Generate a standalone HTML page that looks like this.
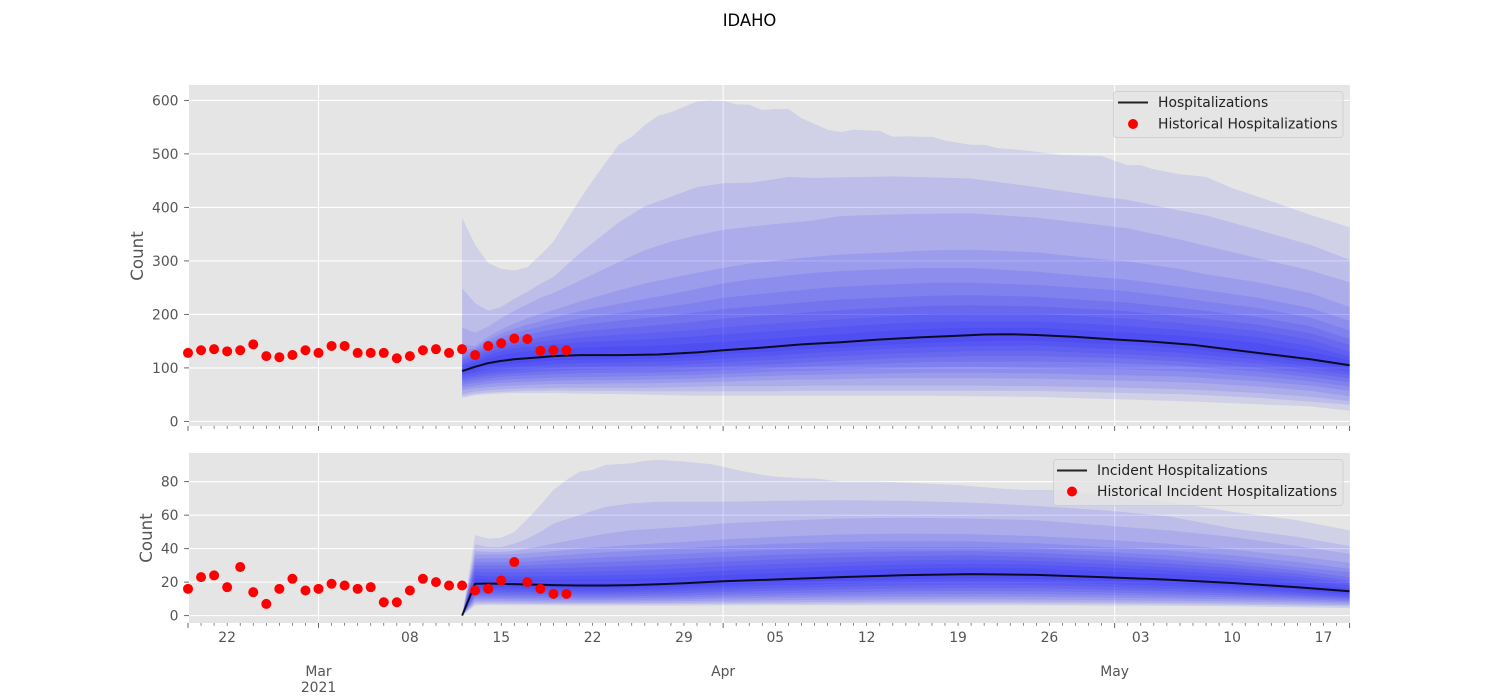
<!DOCTYPE html>
<html lang="en">
<head>
<meta charset="utf-8">
<title>IDAHO</title>
<style>
html,body{margin:0;padding:0;background:#fff;width:1500px;height:700px;overflow:hidden}
svg{display:block}
text{font-family:"DejaVu Sans","Liberation Sans",sans-serif}
</style>
</head>
<body>
<svg id="fig" xmlns="http://www.w3.org/2000/svg" width="1500" height="700" viewBox="0 0 1500 700">
  <text x="749.5" y="26" text-anchor="middle" font-size="16.4" fill="#000">IDAHO</text>
  <g id="panelTop"></g>
  <g id="panelBottom"></g>
  <g id="legendTop">
    <rect x="1113.5" y="91.5" width="229.5" height="46" rx="3" fill="#e5e5e5" fill-opacity="0.8" stroke="#cccccc" stroke-opacity="0.8"/>
    <line x1="1118" y1="102.5" x2="1148" y2="102.5" stroke="#000" stroke-opacity="0.85" stroke-width="2"/>
    <circle cx="1133" cy="124" r="5" fill="#f00"/>
    <text x="1158" y="107" font-size="13.9" fill="#222">Hospitalizations</text>
    <text x="1158" y="128.5" font-size="13.9" fill="#222">Historical Hospitalizations</text>
  </g>
  <g id="legendBottom">
    <rect x="1053.5" y="459.5" width="289.5" height="46" rx="3" fill="#e5e5e5" fill-opacity="0.8" stroke="#cccccc" stroke-opacity="0.8"/>
    <line x1="1057" y1="470.5" x2="1087" y2="470.5" stroke="#000" stroke-opacity="0.85" stroke-width="2"/>
    <circle cx="1072" cy="491.5" r="5" fill="#f00"/>
    <text x="1097" y="475" font-size="13.9" fill="#222">Incident Hospitalizations</text>
    <text x="1097" y="496" font-size="13.9" fill="#222">Historical Incident Hospitalizations</text>
  </g>
</svg>
<script>
// Days are counted from 2021-02-19.
var historyDays = [0,1,2,3,4,5,6,7,8,9,10,11,12,13,14,15,16,17,18,19,20,21,22,23,24,25,26,27,28,29];
var historicalHospitalizations = [128,133,135,131,133,144,122,120,124,133,128,141,141,128,128,128,118,122,133,135,128,135,124,141,146,155,154,132,133,133];
var historicalIncident = [16,23,24,17,29,14,7,16,22,15,16,19,18,16,17,8,8,15,22,20,18,18,15,16,21,32,20,16,13,13];

var hospMedianDays = [21,22,23,24,25,26,27,28,30,33,36,39,41,44,47,50,53,56,59,61,63,65,68,71,74,77,80,83,86,89];
var hospMedian = [94,102,109,113,116,118,120,122,124,124,125,129,133,138,144,148,153,157,160,162.5,163,161.5,158,153,149,143,134,125,116,105];

var hospOuterDays = [21,22,23,24,25,26,27,28,29,30,31,32,33,34,35,36,37,38,39,40,41,42,43,44,45,46,47,48,49,50,51,52,53,54,55,56,57,58,59,60,61,62,63,64,65,67,70,71,72,73,74,76,78,80,82,86,89];
var hospQ99 = [381,330,296,285,282,288,311,336,375,414,450,484,517,532,554,571,578,588,598,600,599,593,592,582,584,584,567,556,545,541,545,544,543,532,533,532,532,525,521,517,517,511,509,507,504,498,496,487,479,479,471,462,457,436,420,386,363];

var hospDays = [21,22,23,24,25,26,27,28,30,33,35,37,39,41,43,45,46,48,50,54,57,60,65,70,72,76,78,82,86,89];
var hospQ975 = [249,221,207,214,229,242,257,270,314,372,402,420,438,445,446,453,457,455,456,458,456,454,438,420,414,394,385,358,330,302];
var hospQ95 = [175,166,177,193,207,219,231,240,263,298,320,336,348,358,364,369,371,376,384,387,388,389,381,367,361,340,328,305,282,260];
var hospQ90 = [143,141,158,172,183,193,201,208,224,245,258,268,278,287,295,300,303,308,312,316,320,321,316,303,299,285,275,260,240,214];
var hospQ85 = [132,137,152,164,173,181,187,194,206,220,229,238,248,258,265,270,273,278,281,285,287,287,280,269,265,252,245,231,212,188];
var hospQ80 = [125,134,146,157,165,171,177,183,192,202,209,215,222,231,236,241,243,248,252,256,259,259,255,247,243,231,224,212,194,170];
var hospQ75 = [118,130,141,150,156,162,167,172,180,188,193,198,204,210,214,218,220,224,228,232,235,236,233,225,222,212,207,195,178,154];
var hospQ70 = [113,126,136,144,149,153,157,161,168,174,178,182,187,192,196,199,201,205,208,213,216,217,215,209,206,197,192,181,165,143];
var hospQ65 = [108,120,130,137,142,146,149,152,157,162,165,168,171,176,180,183,185,188,191,197,200,201,201,195,192,184,179,169,153,130];
var hospQ60 = [104,115,124,131,136,139,141,144,148,151,153,156,159,163,166,169,171,174,177,183,186,187,187,181,178,171,167,157,141,121];
var hospQ55 = [99,110,118,124,128,131,133,135,138,140,141,143,146,148,152,155,157,160,163,170,173,175,175,168,166,160,156,146,130,114];
var hospQ45 = [90,96,102,105,108,110,112,114,115,116,117,118,121,125,128,131,133,136,138,144,147,150,151,145,143,137,132,122,109,99];
var hospQ40 = [86,91,96,99,101,103,105,107,109,110,111,112,114,117,120,123,125,128,131,136,139,141,142,136,134,128,124,115,103,93];
var hospQ35 = [82,86,90,93,95,97,99,100,102,103,104,105,107,110,113,115,116,119,122,127,129,131,132,127,125,120,116,108,97,87];
var hospQ30 = [78,82,85,88,90,91,93,94,96,97,98,99,101,103,105,107,108,111,113,118,120,122,122,119,117,112,108,100,90,81];
var hospQ25 = [73,77,80,83,85,86,87,88,90,91,91,92,94,96,98,100,101,103,105,109,111,112,112,110,108,104,100,93,83,73];
var hospQ20 = [68,72,75,77,79,80,81,82,83,84,85,86,87,89,91,93,94,95,97,100,101,102,100,98,97,94,91,84,75,65];
var hospQ15 = [63,67,70,72,73,74,75,76,77,77,78,79,80,82,84,85,86,87,88,90,91,91,90,87,86,84,81,75,67,57];
var hospQ10 = [58,62,64,66,67,68,69,70,70,71,71,72,73,74,76,77,78,78,79,81,81,81,80,77,76,73,71,65,57,47];
var hospQ05 = [51,56,58,60,61,62,62,63,63,63,63,64,65,66,66,66,66,67,67,67,67,67,66,64,63,60,58,53,46,38];
var hospQ025 = [47,52,54,55,56,57,57,58,57,57,56,56,56,56,56,56,57,57,57,57,57,57,57,54,53,51,49,44,37,31];
var hospQ01 = [44,49,51,52,53,53,53,53,52,51,50,49,48,48,48,48,48,48,48,48,48,47,46,42,41,38,36,32,28,20];

var incOuterDays = [21,22,23,24,25,26,27,28,29,30,31,32,33,34,35,36,38,40,41,42,44,45,47,48,50,53,56,59,62,64,67,70,75,80,85,89];
var incQ99 = [0,48,46,46.5,50,57.6,66,75,81,86,87,90,90.5,91,92.4,93,92,90.5,89,87,84,83,82,82,80,80,79,78,76,75,75,72,68,62,57,51];

var incDays = [21,22,23,24,25,26,27,28,30,32,34,36,38,41,45,50,55,60,65,70,75,80,85,89];
var incMedian = [0,19,19.2,19,18.8,18.6,18.4,18.2,18,18,18.2,18.7,19.3,20.5,21.6,23,24.2,24.8,24.3,23,21.5,19.5,17,14.5];
var incQ975 = [0,42.5,41,41,43,46,50,55,60,65,67,68,68,68,68.5,69,68.5,67.5,65.5,63,59.5,52,47,41.5];
var incQ95 = [0,38.5,38,38,38.5,40,41.5,43,46,49,51,52,53,55,56.5,58,58.5,58,57,54,51,47,41.5,37];
var incQ90 = [0,36.5,36.5,36.5,36.8,37.2,37.8,38.5,40,41.2,42.2,43.2,44,45.5,47,48.5,49,48.7,47.5,45.5,43,39.5,35.5,31.6];
var incQ85 = [0,34,34.2,34.2,34.2,34.6,35.2,35.8,36.8,37.8,38.6,39.5,40.3,41.5,42.8,44,44.5,44.3,43.2,41.2,39,36,32,28];
var incQ80 = [0,32,32,32,32,32.2,32.7,33.2,34,34.8,35.5,36.3,37,38,39.3,40.5,41,41,40.2,38.2,36,33,29,26];
var incQ75 = [0,30,30,30,30,30,30.4,30.8,31.4,32,32.6,33.3,34,35,36.3,37.5,38.3,38.5,37.6,35.8,33.5,30.6,27,23];
var incQ70 = [0,28,28,28,28,28,28.2,28.4,28.8,29.3,29.8,30.4,31,32.2,33.5,34.8,35.6,36,35,33.3,31.2,28.5,25,21];
var incQ65 = [0,26,25.8,25.8,25.8,25.8,26,26,26.2,26.6,27,27.6,28.3,29.5,30.8,32,33,33.5,32.6,31,29,26.5,23.2,19.5];
var incQ60 = [0,24,23.5,23.5,23.5,23.5,23.5,23.5,23.8,24,24.3,24.8,25.5,26.8,28,29.5,30.5,31,30.4,28.8,27,24.5,21.5,18];
var incQ55 = [0,22,21.5,21.5,21.5,21.5,21.5,21.5,21.5,21.5,21.8,22.3,23,24.2,25.4,26.8,28,28.7,28,26.5,24.8,22.5,19.5,16];
var incQ45 = [0,17.5,17.5,17.3,17,16.8,16.7,16.5,16.3,16.3,16.5,16.9,17.5,18.5,19.5,20.8,21.8,22.3,21.9,20.8,19.4,17.6,15.3,13];
var incQ40 = [0,16,16,15.8,15.6,15.4,15.3,15.2,15,15,15.2,15.5,16,17,18,19,19.9,20.3,20,19,17.7,16.1,14,12];
var incQ35 = [0,14.5,14.5,14.4,14.2,14.1,14,13.9,13.8,13.8,14,14.3,14.7,15.5,16.4,17.3,18,18.4,18.1,17.2,16.1,14.7,12.9,11];
var incQ30 = [0,13,13.2,13.1,13,12.9,12.8,12.7,12.6,12.6,12.8,13,13.4,14.1,14.8,15.6,16.2,16.5,16.3,15.5,14.6,13.4,11.9,10.3];
var incQ25 = [0,12,12,12,11.9,11.8,11.7,11.6,11.5,11.5,11.6,11.8,12.1,12.7,13.3,14,14.5,14.7,14.5,13.9,13.1,12.1,10.9,9.5];
var incQ20 = [0,11,11,10.9,10.8,10.7,10.6,10.5,10.4,10.4,10.5,10.7,10.9,11.4,11.9,12.4,12.8,13,12.8,12.3,11.7,10.9,9.9,8.7];
var incQ15 = [0,10,10,9.9,9.8,9.7,9.6,9.5,9.4,9.4,9.5,9.6,9.8,10.2,10.6,11,11.3,11.4,11.2,10.8,10.3,9.7,8.9,8];
var incQ10 = [0,9,9,8.9,8.8,8.7,8.6,8.5,8.4,8.4,8.5,8.6,8.7,9,9.2,9.5,9.7,9.8,9.6,9.3,8.9,8.5,7.9,7];
var incQ05 = [0,8,8,7.9,7.8,7.7,7.7,7.6,7.5,7.5,7.5,7.6,7.7,7.9,8,8.2,8.3,8.4,8.2,8,7.7,7.3,6.8,6.2];
var incQ025 = [0,7,7.2,7.1,7,7,6.9,6.9,6.8,6.8,6.8,6.8,6.9,7,7.1,7.2,7.3,7.3,7.2,7,6.8,6.5,6,5.5];
var incQ01 = [0,6,6.4,6.3,6.2,6.2,6.2,6.1,6,6,6,6,6,6.1,6.2,6.2,6.3,6.3,6.2,6,5.8,5.5,5,4.5];

var hospYTicks = [0,100,200,300,400,500,600];
var incYTicks = [0,20,40,60,80];
var monthTickDays = [10,41,71];
var monthTickLabels = ['Mar','Apr','May'];
var weekTickDays = [3,17,24,31,38,45,52,59,66,73,80,87];
var weekTickLabels = ['22','08','15','22','29','05','12','19','26','03','10','17'];
var lastDay = 89;

var NS = 'http://www.w3.org/2000/svg';
var plotLeft = 189, plotRight = 1350;
var scaleLeft = 188, scaleRight = 1349.6;
function xScale(d){ return scaleLeft + (scaleRight - scaleLeft) * d / lastDay; }
function make(tag, parent){ var e = document.createElementNS(NS, tag); parent.appendChild(e); return e; }
function setA(e, o){ for (var k in o) e.setAttribute(k, o[k]); return e; }

function drawPanel(cfg){
  var g = document.getElementById(cfg.id);
  function yScale(v){ return cfg.bottom + (cfg.top - cfg.bottom) * (v - cfg.yMin) / (cfg.yMax - cfg.yMin); }

  var bg = make('rect', g);
  setA(bg, {x:plotLeft, y:cfg.top, width:plotRight-plotLeft, height:cfg.bottom-cfg.top, fill:'#e5e5e5'});
  
  

  cfg.yTicks.forEach(function(v){
    var y = yScale(v);
    var gl = make('line', g);
    setA(gl, {x1:plotLeft, x2:plotRight, y1:y, y2:y, stroke:'#fff', 'stroke-width':1.1});
    
    
    var t = make('line', g);
    setA(t, {x1:plotLeft-4.9, x2:plotLeft, y1:y, y2:y, stroke:'#555', 'stroke-width':0.9});
    
    
    var l = make('text', g);
    setA(l, {x:plotLeft-10.5, y:y+5, 'text-anchor':'end', 'font-size':13.9, fill:'#555'});
    
    
    l.textContent = v;
  });

  monthTickDays.forEach(function(d){
    var x = xScale(d);
    var gl = make('line', g);
    setA(gl, {x1:x, x2:x, y1:cfg.top, y2:cfg.bottom, stroke:'#fff', 'stroke-width':1.1});
    
    
  });

  for (var d = 0; d <= lastDay; d++) {
    var major = monthTickDays.indexOf(d) >= 0 || d === 0 || d === lastDay;
    var x = xScale(d);
    var tk = make('line', g);
    setA(tk, {x1:x, x2:x, y1:cfg.bottom, y2:cfg.bottom+(major?4.9:2.8), stroke:'#555', 'stroke-width':major?0.9:0.7});
    
    
  }

  cfg.bands.forEach(function(b, bandIndex){
    var upperDays = bandIndex === 0 ? cfg.outerDays : cfg.days;
    var pts = [];
    upperDays.forEach(function(d, i){ pts.push(xScale(d).toFixed(1) + ',' + yScale(b[0][i]).toFixed(1)); });
    for (var i = cfg.days.length - 1; i >= 0; i--) pts.push(xScale(cfg.days[i]).toFixed(1) + ',' + yScale(b[1][i]).toFixed(1));
    var p = make('polygon', g);
    setA(p, {points:pts.join(' '), fill:'#00f', 'fill-opacity':0.092});
    
    
  });

  var medianPts = cfg.medianDays.map(function(d, i){ return xScale(d).toFixed(1) + ',' + yScale(cfg.median[i]).toFixed(1); });
  var line = make('polyline', g);
  setA(line, {points:medianPts.join(' '), fill:'none', stroke:'#000', 'stroke-opacity':0.85, 'stroke-width':2, 'stroke-linejoin':'round'});
  
  

  historyDays.forEach(function(d, i){
    var c = make('circle', g);
    setA(c, {cx:xScale(d), cy:yScale(cfg.history[i]), r:5, fill:'#f00'});
    
    
  });

  var yl = make('text', g);
  setA(yl, {transform:'translate(' + cfg.labelX + ',' + cfg.labelY + ') rotate(-90)', 'text-anchor':'middle', 'font-size':16.67, fill:'#555'});
  
  
  yl.textContent = 'Count';
}

drawPanel({
  id:'panelTop', top:85, bottom:426, yMin:-8.6, yMax:628.8, yTicks:hospYTicks,
  days:hospDays, outerDays:hospOuterDays, medianDays:hospMedianDays, median:hospMedian, history:historicalHospitalizations, labelX:143, labelY:256,
  bands:[[hospQ99,hospQ01],[hospQ975,hospQ025],[hospQ95,hospQ05],[hospQ90,hospQ10],[hospQ85,hospQ15],[hospQ80,hospQ20],[hospQ75,hospQ25],[hospQ70,hospQ30],[hospQ65,hospQ35],[hospQ60,hospQ40],[hospQ55,hospQ45]]
});
drawPanel({
  id:'panelBottom', top:453, bottom:623, yMin:-4.4, yMax:97.1, yTicks:incYTicks,
  days:incDays, outerDays:incOuterDays, medianDays:incDays, median:incMedian, history:historicalIncident, labelX:152, labelY:538,
  bands:[[incQ99,incQ01],[incQ975,incQ025],[incQ95,incQ05],[incQ90,incQ10],[incQ85,incQ15],[incQ80,incQ20],[incQ75,incQ25],[incQ70,incQ30],[incQ65,incQ35],[incQ60,incQ40],[incQ55,incQ45]]
});

var bottomGroup = document.getElementById('panelBottom');
weekTickDays.forEach(function(d, i){
  var t = make('text', bottomGroup);
  setA(t, {x:xScale(d), y:642, 'text-anchor':'middle', 'font-size':13.9, fill:'#555'});
  
  
  t.textContent = weekTickLabels[i];
});
monthTickDays.forEach(function(d, i){
  var t = make('text', bottomGroup);
  setA(t, {x:xScale(d), y:676, 'text-anchor':'middle', 'font-size':13.9, fill:'#555'});
  
  
  t.textContent = monthTickLabels[i];
});
var yearLabel = make('text', bottomGroup);
setA(yearLabel, {x:xScale(monthTickDays[0]), y:692, 'text-anchor':'middle', 'font-size':13.9, fill:'#555'});


yearLabel.textContent = '2021';

var svgRoot = document.getElementById('fig');
svgRoot.appendChild(document.getElementById('legendTop'));
svgRoot.appendChild(document.getElementById('legendBottom'));
</script>
</body>
</html>
